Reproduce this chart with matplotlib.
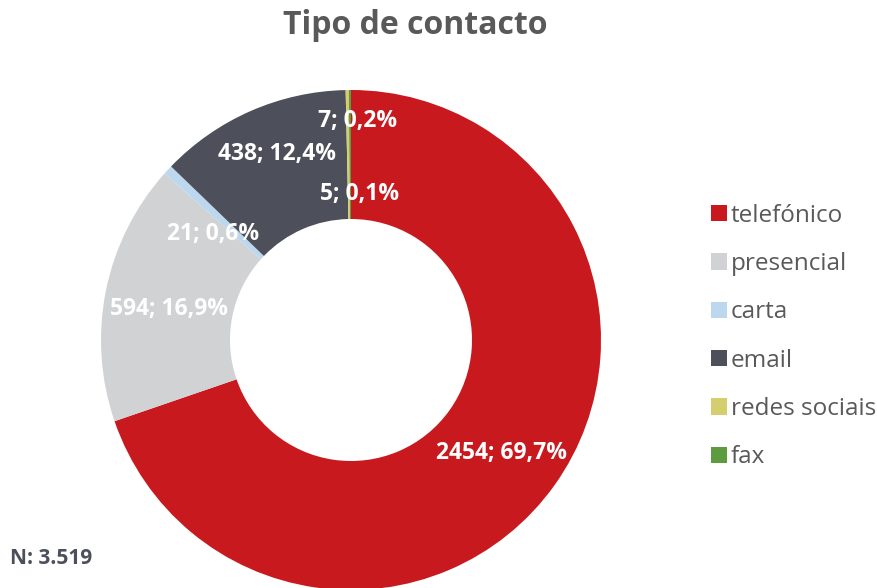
import matplotlib
matplotlib.use("Agg")
import matplotlib.pyplot as plt
from matplotlib.patches import Patch
import numpy as np

categories = ["telefónico", "presencial", "carta", "email", "redes sociais", "fax"]
values = [2454, 594, 21, 438, 7, 5]
percent_labels = ["69,7%", "16,9%", "0,6%", "12,4%", "0,2%", "0,1%"]
colors = ["#C8191E", "#D1D2D4", "#BDD7EE", "#4D505B", "#D4CE6E", "#5E9A3E"]
title = "Tipo de contacto"
note = "N: 3.519"

plt.rcParams['font.family'] = ['Open Sans', 'DejaVu Sans']

fig = plt.figure(figsize=(8.77, 5.88), dpi=100)
ax = fig.add_axes([101/877, (588-590)/588, 500/877, 500/588])

wedges, _ = ax.pie(values, colors=colors, startangle=90, counterclock=False,
                   radius=1, wedgeprops=dict(width=0.516, linewidth=0))
ax.set_xlim(-1, 1)
ax.set_ylim(-1, 1)
ax.set_aspect('equal')
ax.axis('off')

# label placement: angle from the wedge middle, radius at mid ring, with manual nudges (as in source)
total = sum(values)
mid_r = 0.742
nudges = [(0, -0.02), (0, -0.025), (-0.01, -0.08), (0.0, 0.065), (0.02, 0), (0.04, 0)]
cum = 0
for i, v in enumerate(values):
    frac_mid = (cum + v / 2) / total
    cum += v
    ang = np.deg2rad(90 - 360 * frac_mid)
    x = mid_r * np.cos(ang) + nudges[i][0]
    y = mid_r * np.sin(ang) + nudges[i][1]
    if i == 4:
        x, y = 0.025, 0.875
    if i == 5:
        x, y = 0.035, 0.585
    ax.text(x, y, f"{v}; {percent_labels[i]}", ha='center', va='center',
            color='white', fontsize=16.5, fontweight='bold')

fig.text(415/877, 1 - 25/588, title, ha='center', va='center', fontsize=23,
         fontweight='bold', color='#595959')
fig.text(10/877, 1 - 558/588, note, ha='left', va='center', fontsize=15,
         fontweight='bold', color='#4D505B')

handles = [Patch(facecolor=c, edgecolor='none') for c in colors]
leg = fig.legend(handles, categories, loc='upper left',
                 bbox_to_anchor=(701/877, 1 - 194/588), frameon=False,
                 fontsize=17.5, labelcolor='#595959', handlelength=0.66,
                 handleheight=0.66, handletextpad=0.16, labelspacing=1.0,
                 borderaxespad=0)

fig.savefig("out.png", dpi=100)
